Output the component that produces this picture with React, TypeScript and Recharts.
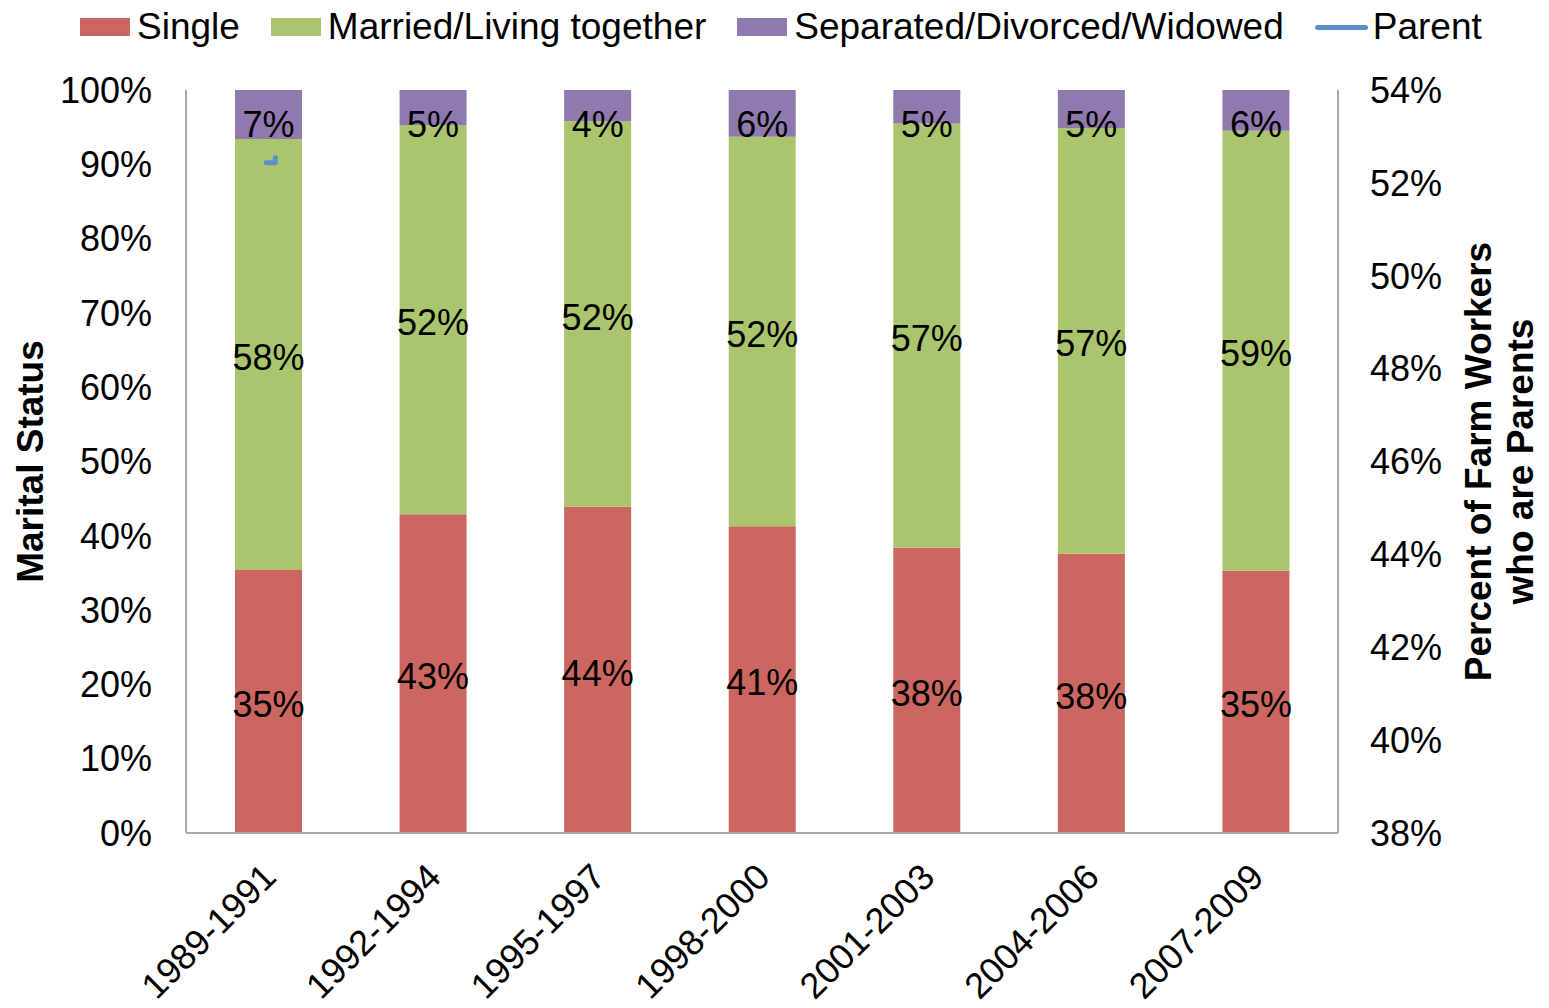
import {
  ComposedChart,
  Bar,
  Line,
  XAxis,
  YAxis,
  Legend,
  LabelList,
} from 'recharts';

const periods = ['1989-1991', '1992-1994', '1995-1997', '1998-2000', '2001-2003', '2004-2006', '2007-2009'];
const singleValues = [35.4, 42.9, 43.9, 41.3, 38.4, 37.6, 35.3];
const marriedValues = [58.0, 52.4, 51.9, 52.4, 57.1, 57.3, 59.2];
const separatedValues = [6.6, 4.7, 4.2, 6.3, 4.5, 5.1, 5.5];
// only the first period has a parent value in the source chart
const parentValues: (number | null)[] = [52.5, null, null, null, null, null, null];

const leftTicks = [0, 10, 20, 30, 40, 50, 60, 70, 80, 90, 100];
const rightTicks = [38, 40, 42, 44, 46, 48, 50, 52, 54];

const COLORS = {
  single: '#CC6661',
  married: '#ABC56E',
  separated: '#9079AF',
  parent: '#5B8FC9',
  axis: '#A9A9A9',
};

const FONT = '"Liberation Sans", Arial, sans-serif';

const data = periods.map((period, i) => ({
  period,
  single: singleValues[i],
  married: marriedValues[i],
  separated: separatedValues[i],
  parent: parentValues[i],
}));

const legendItems = [
  { label: 'Single', color: COLORS.single, kind: 'box' },
  { label: 'Married/Living together', color: COLORS.married, kind: 'box' },
  { label: 'Separated/Divorced/Widowed', color: COLORS.separated, kind: 'box' },
  { label: 'Parent', color: COLORS.parent, kind: 'line' },
];

const renderLegend = () => (
  <div
    style={{
      display: 'flex',
      alignItems: 'center',
      height: 54,
      paddingLeft: 80,
      fontFamily: FONT,
      fontSize: 37,
      color: '#000',
      whiteSpace: 'nowrap',
    }}
  >
    {legendItems.map((item, i) => (
      <div key={item.label} style={{ display: 'flex', alignItems: 'center', marginLeft: i === 0 ? 0 : 31 }}>
        {item.kind === 'box' ? (
          <div style={{ width: 50, height: 18, background: item.color, marginRight: 7 }} />
        ) : (
          <div style={{ width: 53, height: 5, borderRadius: 3, background: item.color, marginRight: 5 }} />
        )}
        <span>{item.label}</span>
      </div>
    ))}
  </div>
);

const renderBarLabel = (props: any) => {
  const { x, y, width, height, value } = props;
  if (value == null) return null;
  const cx = Number(x) + Number(width) / 2;
  // keep the label inside the plot for the thin top segments
  const cy = Number(y) + Math.max(Number(height) / 2 + 3, 34);
  return (
    <text x={cx} y={cy} dy="0.35em" textAnchor="middle" fontFamily={FONT} fontSize={36} fill="#000">
      {`${Math.round(Number(value))}%`}
    </text>
  );
};

const XTick = (props: any) => {
  const { x, y, payload } = props;
  const ax = x + 10;
  const ay = y + 46;
  return (
    <text
      x={ax}
      y={ay}
      textAnchor="end"
      transform={`rotate(-45, ${ax}, ${ay})`}
      fontFamily={FONT}
      fontSize={36}
      fill="#000"
    >
      {payload.value}
    </text>
  );
};

const ParentDot = (props: any) => {
  const { cx, cy, value, index } = props;
  if (value == null || cx == null || cy == null) return <g key={`pd-${index}`} />;
  return (
    <path
      key={`pd-${index}`}
      d={`M${cx - 2},${cy + 3} L${cx + 7},${cy + 3} L${cx + 7},${cy - 2}`}
      stroke={COLORS.parent}
      strokeWidth={5}
      strokeLinecap="round"
      strokeLinejoin="round"
      fill="none"
    />
  );
};

const LeftTitle = (props: any) => {
  const { viewBox } = props;
  const tx = viewBox.x + 30;
  const ty = viewBox.y + viewBox.height / 2;
  return (
    <text
      x={tx}
      y={ty}
      dy="0.35em"
      textAnchor="middle"
      transform={`rotate(-90, ${tx}, ${ty})`}
      fontFamily={FONT}
      fontSize={37}
      fontWeight="bold"
      fill="#000"
    >
      Marital Status
    </text>
  );
};

const RightTitle = (props: any) => {
  const { viewBox } = props;
  const ty = viewBox.y + viewBox.height / 2;
  const lines = ['Percent of Farm Workers', 'who are Parents'];
  return (
    <g>
      {lines.map((line, i) => {
        const tx = viewBox.x + 140 + i * 42;
        return (
          <text
            key={line}
            x={tx}
            y={ty}
            dy="0.35em"
            textAnchor="middle"
            transform={`rotate(-90, ${tx}, ${ty})`}
            fontFamily={FONT}
            fontSize={37}
            fontWeight="bold"
            fill="#000"
          >
            {line}
          </text>
        );
      })}
    </g>
  );
};

const tickStyle = { fontFamily: FONT, fontSize: 36, fill: '#000' };

export default function App() {
  return (
    <div style={{ position: 'absolute', left: 0, top: 0, background: '#fff' }}>
      <ComposedChart
        width={1549}
        height={1008}
        data={data}
        barCategoryGap={0}
        margin={{ top: 36, right: 0, bottom: 0, left: 0 }}
      >
        <Legend
          verticalAlign="top"
          align="left"
          content={renderLegend}
          wrapperStyle={{ top: 0, left: 0, width: 1549, height: 54 }}
        />
        <XAxis
          dataKey="period"
          height={175}
          interval={0}
          tickSize={0}
          tickMargin={0}
          tick={<XTick />}
          axisLine={{ stroke: COLORS.axis, strokeWidth: 2 }}
          tickLine={false}
        />
        <YAxis
          yAxisId="left"
          width={186}
          domain={[0, 100]}
          ticks={leftTicks}
          allowDataOverflow
          tickFormatter={(v: number) => `${v}%`}
          tick={tickStyle}
          tickSize={0}
          tickMargin={34}
          tickLine={false}
          axisLine={{ stroke: COLORS.axis, strokeWidth: 2 }}
          label={{ content: LeftTitle }}
        />
        <YAxis
          yAxisId="right"
          orientation="right"
          width={211}
          domain={[38, 54]}
          ticks={rightTicks}
          allowDataOverflow
          tickFormatter={(v: number) => `${v}%`}
          tick={{ ...tickStyle, textAnchor: 'start' }}
          tickSize={0}
          tickMargin={32}
          tickLine={false}
          axisLine={{ stroke: COLORS.axis, strokeWidth: 2 }}
          label={{ content: RightTitle }}
        />
        <Bar yAxisId="left" dataKey="single" name="Single" stackId="m" fill={COLORS.single} barSize={67} isAnimationActive={false}>
          <LabelList dataKey="single" content={renderBarLabel} />
        </Bar>
        <Bar yAxisId="left" dataKey="married" name="Married/Living together" stackId="m" fill={COLORS.married} barSize={67} isAnimationActive={false}>
          <LabelList dataKey="married" content={renderBarLabel} />
        </Bar>
        <Bar yAxisId="left" dataKey="separated" name="Separated/Divorced/Widowed" stackId="m" fill={COLORS.separated} barSize={67} isAnimationActive={false}>
          <LabelList dataKey="separated" content={renderBarLabel} />
        </Bar>
        <Line
          yAxisId="right"
          dataKey="parent"
          name="Parent"
          stroke={COLORS.parent}
          strokeWidth={5}
          dot={<ParentDot />}
          activeDot={false}
          isAnimationActive={false}
        />
      </ComposedChart>
    </div>
  );
}
